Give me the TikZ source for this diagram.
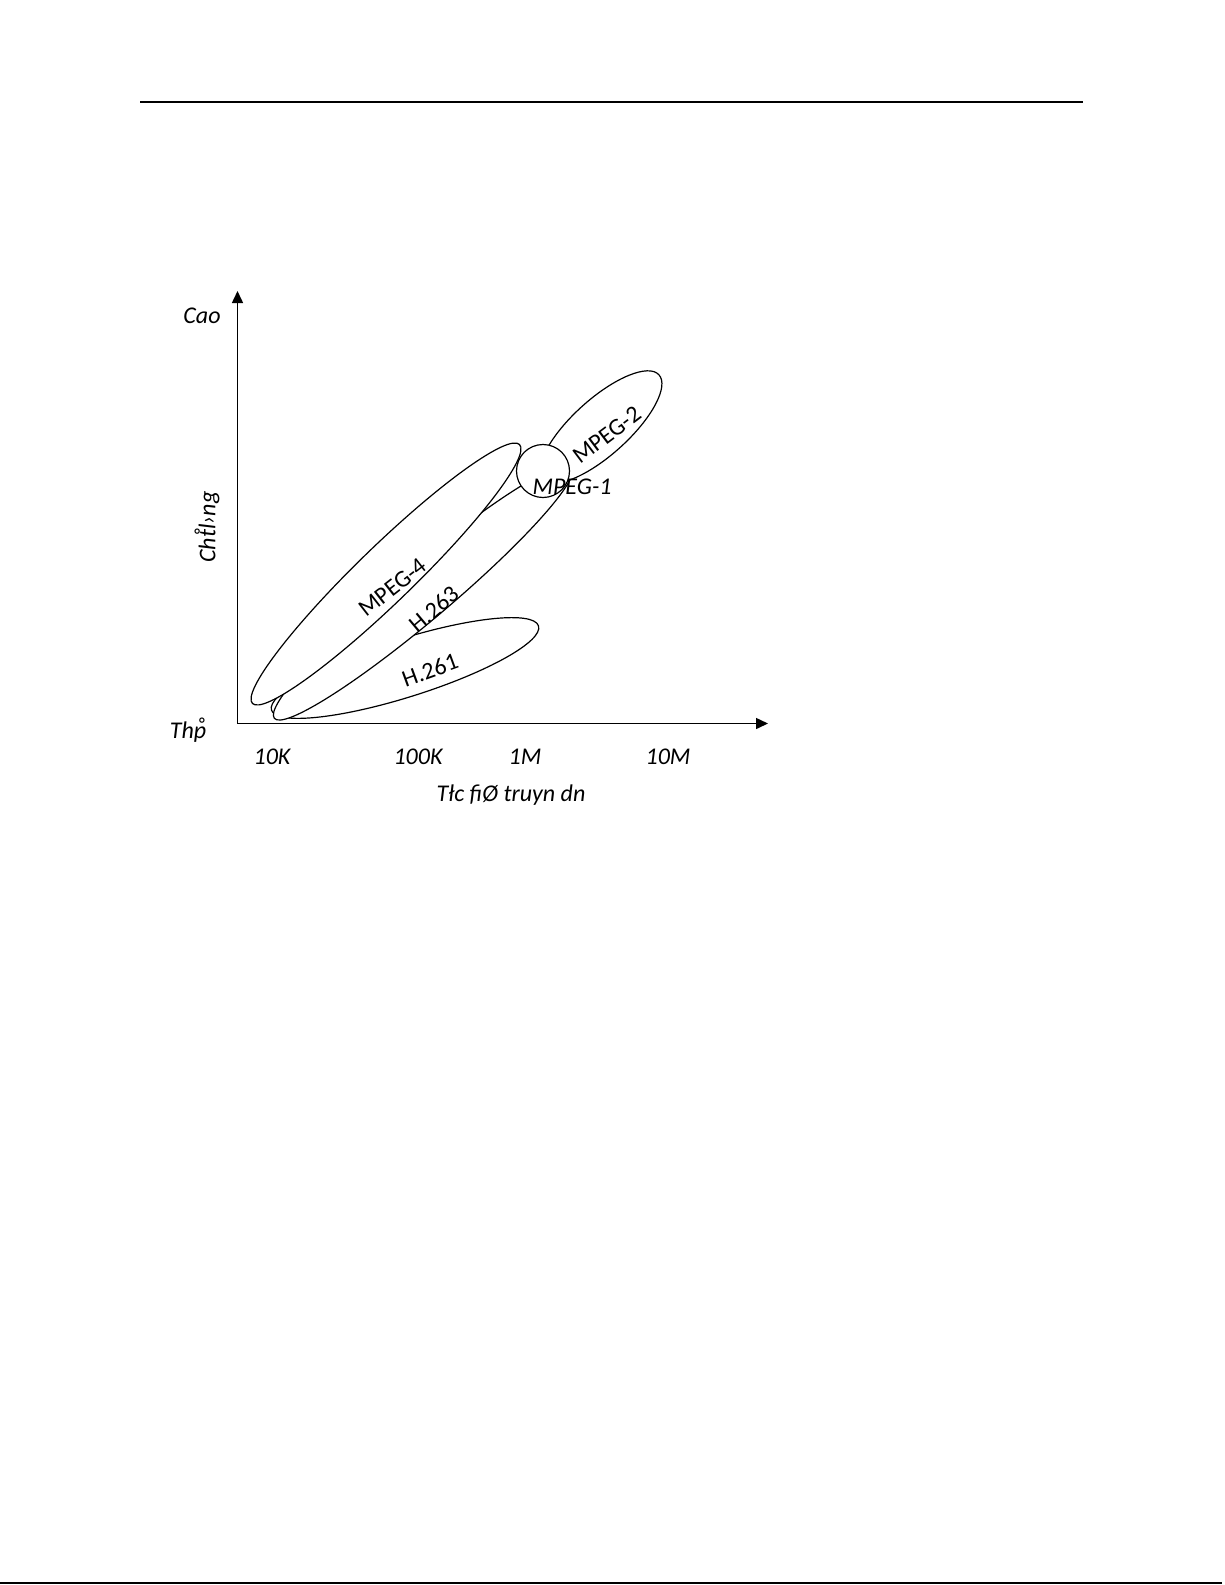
\documentclass[tikz,border=0pt]{standalone}
\usepackage{fontspec}
\setmainfont{Carlito}
\newfontfamily\dvsring{DejaVu Sans}
\usetikzlibrary{shapes.geometric,arrows.meta}
\newcommand\ringover[1]{\ooalign{#1\cr\hidewidth{\dvsring\fontsize{10}{10}\selectfont\raisebox{0.12em}{˚}}\hidewidth\cr}}
\begin{document}
\begin{tikzpicture}[x=0.5pt,y=-0.5pt,
  blob/.style={draw, ellipse, fill=white, line width=0.6pt, inner sep=0pt},
  axislabel/.style={font=\fontsize{12}{14}\selectfont\itshape, inner sep=0pt},
  codec/.style={font=\fontsize{12}{14}\selectfont, inner sep=0pt},
  axisline/.style={line width=0.75pt, -{Triangle[length=6pt,width=5.5pt]}},
  rule/.style={line width=1pt}]
\useasboundingbox (0,0) rectangle (1225,1585);
% page rules
\coordinate (topL) at (140,102);
\coordinate (topR) at (1083,102);
\coordinate (botL) at (0,1583);
\coordinate (botR) at (1222,1583);
\draw[rule] (topL) -- (topR);
\draw[rule] (botL) -- (botR);
% axes
\coordinate (O) at (237.5,723.5);
\coordinate (ytip) at (237.5,291);
\coordinate (xtip) at (768,723.5);
\draw[axisline] (O) -- (ytip);
\draw[axisline] (O) -- (xtip);
% regions (drawn back to front)
\node[blob, minimum width=140pt, minimum height=29pt, rotate=17.5] (h261) at (405,668) {};
\node[blob, minimum width=195pt, minimum height=27pt, rotate=40.2] (h263) at (423.3,592.5) {};
\node[blob, minimum width=186pt, minimum height=28pt, rotate=44.1] (m4) at (386,574) {};
\node[blob, minimum width=78pt, minimum height=28pt, rotate=42] (m2) at (601,427) {};
\node[blob, circle, minimum size=26.5pt] (m1) at (543,471) {};
% region labels
\node[codec, rotate=38] (t4) at (392.5,587.5) {MPEG-4};
\node[codec, rotate=40] (t263) at (434,609) {H.263};
\node[codec, rotate=20] (t261) at (430,670) {H.261};
\node[codec, rotate=37] (t2) at (607,435) {MPEG-2};
\node[axislabel] (t1) at (572,487) {MPEG-1};
% axis labels
\node[axislabel] (cao) at (202,316) {Cao};
\node[axislabel, rotate=90] (cl) at (209,527) {Ch\ringover{t}l›ng};
\node[axislabel] (thap) at (188,730) {Th\ringover{p}};
\node[axislabel] (k10) at (272,757) {10K};
\node[axislabel] (k100) at (418,757) {100K};
\node[axislabel] (m1l) at (525,757) {1M};
\node[axislabel] (m10) at (668,757) {10M};
\node[axislabel] (xl) at (511,795) {Tłc fiØ truyn dn};
\end{tikzpicture}
\end{document}
